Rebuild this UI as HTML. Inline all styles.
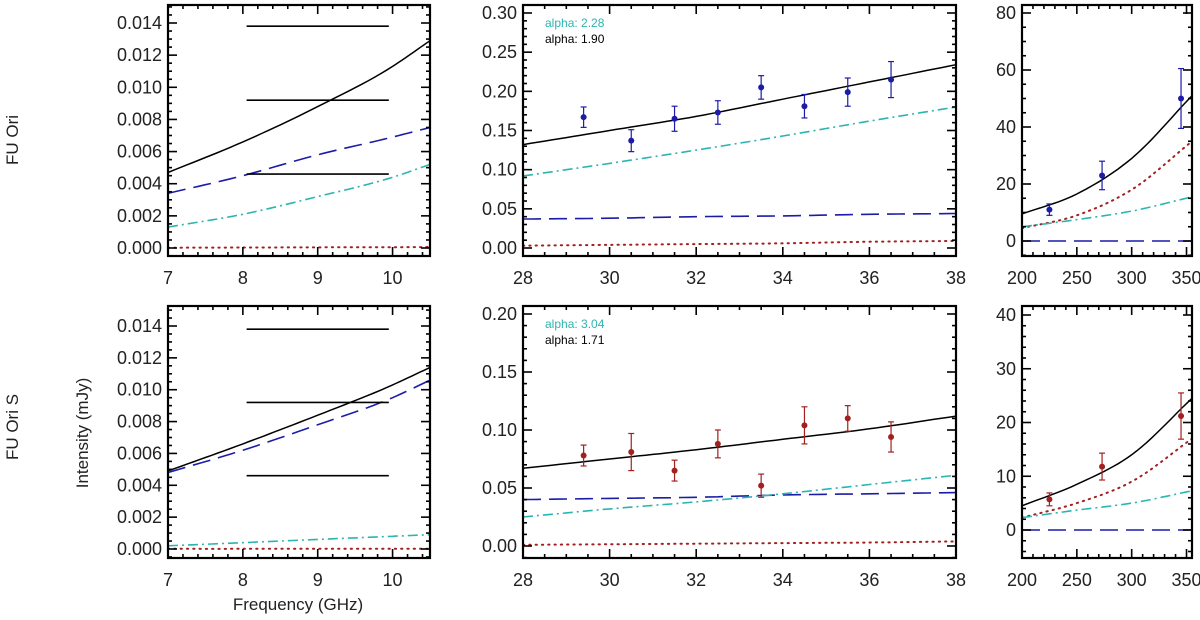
<!DOCTYPE html>
<html><head><meta charset="utf-8">
<style>
html,body{margin:0;padding:0;background:#fff;}
svg{display:block;font-family:"Liberation Sans",sans-serif;}
</style></head>
<body>
<svg id="c" width="1200" height="620" viewBox="0 0 1200 620"></svg>
<script>
// ---- data ----
const lowX = [7, 8, 9, 10, 10.5];
const midX = [28, 30, 32, 34, 36, 38];
const highX = [200, 250, 300, 355];
const ptMidX = [29.4, 30.5, 31.5, 32.5, 33.5, 34.5, 35.5, 36.5];
const ptHighX = [225, 273, 345];
const limitX = [8.05, 9.95];
const limitY = [0.0138, 0.0092, 0.0046];

// FU Ori
const a_totLow = [0.0047, 0.0066, 0.0088, 0.0113, 0.0129];
const a_dashLow = [0.0034, 0.0045, 0.0058, 0.0069, 0.0075];
const a_cyanLow = [0.0013, 0.0021, 0.0032, 0.0044, 0.0052];
const a_redLow = [0.00002, 0.00003, 0.00004, 0.00005, 0.00006];
const a_totMid = [0.132, 0.150, 0.168, 0.190, 0.212, 0.234];
const a_cyanMid = [0.092, 0.108, 0.125, 0.143, 0.162, 0.180];
const a_dashMid = [0.037, 0.038, 0.040, 0.041, 0.043, 0.044];
const a_redMid = [0.003, 0.004, 0.005, 0.006, 0.008, 0.009];
const a_ptMid = [0.167, 0.137, 0.165, 0.173, 0.205, 0.181, 0.199, 0.215];
const a_errMid = [0.013, 0.014, 0.016, 0.015, 0.015, 0.015, 0.018, 0.023];
const a_totHigh = [9.5, 16.5, 29, 51];
const a_redHigh = [4.5, 9, 18, 35];
const a_cyanHigh = [5, 7.5, 10.5, 15.5];
const a_dashHigh = [0, 0, 0, 0];
const a_ptHigh = [11, 23, 50];
const a_errHigh = [2, 5, 10.5];

// FU Ori S
const b_totLow = [0.0049, 0.0066, 0.0084, 0.0103, 0.0114];
const b_dashLow = [0.0048, 0.0062, 0.0078, 0.0095, 0.0106];
const b_cyanLow = [0.0002, 0.0004, 0.0006, 0.0008, 0.0009];
const b_redLow = [0.00001, 0.00001, 0.00002, 0.00002, 0.00002];
const b_totMid = [0.067, 0.075, 0.083, 0.092, 0.101, 0.112];
const b_dashMid = [0.040, 0.041, 0.042, 0.044, 0.045, 0.046];
const b_cyanMid = [0.025, 0.032, 0.038, 0.045, 0.053, 0.061];
const b_redMid = [0.001, 0.0015, 0.002, 0.0025, 0.003, 0.004];
const b_ptMid = [0.078, 0.081, 0.065, 0.088, 0.052, 0.104, 0.110, 0.094];
const b_errMid = [0.009, 0.016, 0.009, 0.012, 0.010, 0.016, 0.011, 0.013];
const b_totHigh = [4.5, 8.5, 14, 24.5];
const b_redHigh = [2.3, 5, 9, 17];
const b_cyanHigh = [2.3, 3.7, 5, 7.3];
const b_dashHigh = [0, 0, 0, 0];
const b_ptHigh = [5.7, 11.8, 21.2];
const b_errHigh = [1.2, 2.5, 4.3];

const lowTicksX = [7, 8, 9, 10];
const lowTicksY = ["0.000","0.002","0.004","0.006","0.008","0.010","0.012","0.014"];
const midTicksX = [28, 30, 32, 34, 36, 38];
const midTicksYa = ["0.00","0.05","0.10","0.15","0.20","0.25","0.30"];
const midTicksYb = ["0.00","0.05","0.10","0.15","0.20"];
const highTicksX = [200, 250, 300, 350];
const highTicksYa = ["0","20","40","60","80"];
const highTicksYb = ["0","10","20","30","40"];

const NS = "http://www.w3.org/2000/svg";
const svg = document.getElementById('c');
function el(tag, attrs, parent, text){
  const e = document.createElementNS(NS, tag);
  for (const k in attrs) e.setAttribute(k, attrs[k]);
  if (text !== undefined) e.textContent = text;
  (parent || svg).appendChild(e);
  return e;
}
const BLK="#000", BLUE="#1c1ca8", CYAN="#2cb5b0", RED="#a32020";
const STY = {
  tot:{stroke:BLK, dash:"", w:1.5},
  dash:{stroke:BLUE, dash:"18,8", w:1.6},
  cyan:{stroke:CYAN, dash:"10,4,2,4", w:1.6},
  red:{stroke:RED, dash:"1.3,5", w:2}
};

function panel(name, L, R, T, B, x0, x1, ya, ypa, yb, ypb){
  const g = el('g', {}, svg);
  
  
  const sx = v => L + (v - x0) / (x1 - x0) * (R - L);
  const sy = v => ypa + (v - ya) / (yb - ya) * (ypb - ypa);
  const invY = p => ya + (p - ypa) / (ypb - ypa) * (yb - ya);
  return {g, L, R, T, B, sx, sy, invY, x0, x1};
}
function tangents(xs, ys){
  const n = xs.length, m = [];
  for (let i = 0; i < n; i++) {
    if (i === 0) m.push((ys[1]-ys[0])/(xs[1]-xs[0]));
    else if (i === n-1) m.push((ys[n-1]-ys[n-2])/(xs[n-1]-xs[n-2]));
    else {
      const d0 = (ys[i]-ys[i-1])/(xs[i]-xs[i-1]), d1 = (ys[i+1]-ys[i])/(xs[i+1]-xs[i]);
      const h0 = xs[i]-xs[i-1], h1 = xs[i+1]-xs[i];
      m.push((d0*h1 + d1*h0)/(h0+h1));
    }
  }
  return m;
}
function line(p, name, xs, ys, kind){
  const m = tangents(xs, ys);
  let pts = [];
  for (let i = 0; i < xs.length - 1; i++) {
    const h = xs[i+1] - xs[i];
    for (let k = 0; k < 12; k++) {
      const t = k / 12, t2 = t*t, t3 = t2*t;
      const y = (2*t3-3*t2+1)*ys[i] + (t3-2*t2+t)*h*m[i] + (-2*t3+3*t2)*ys[i+1] + (t3-t2)*h*m[i+1];
      const x = xs[i] + h * t;
      pts.push(p.sx(x).toFixed(1) + "," + p.sy(y).toFixed(1));
    }
  }
  pts.push(p.sx(xs[xs.length-1]).toFixed(1) + "," + p.sy(ys[ys.length-1]).toFixed(1));
  const s = STY[kind];
  const e = el('polyline', {points: pts.join(" "), fill:"none", stroke:s.stroke, "stroke-width": s.w, "stroke-dasharray": s.dash, "stroke-linecap": kind==="red"?"round":"butt"}, p.g);
  
  
}
function points(p, name, xs, ys, es, color){
  xs.forEach((x, i) => {
    const cx = p.sx(x), cy = p.sy(ys[i]), y1 = p.sy(ys[i] + es[i]), y2 = p.sy(ys[i] - es[i]);
    const g = el('g', {}, p.g);
    
    
    el('line', {x1:cx, x2:cx, y1:y1, y2:y2, stroke:color, "stroke-width":1.2}, g);
    el('line', {x1:cx-3, x2:cx+3, y1:y1, y2:y1, stroke:color, "stroke-width":1.2}, g);
    el('line', {x1:cx-3, x2:cx+3, y1:y2, y2:y2, stroke:color, "stroke-width":1.2}, g);
    el('circle', {cx:cx, cy:cy, r:3, fill:color}, g);
  });
}
function axes(p, xt, yLabels, yStep, xMinorN, yMinorN, yMinorStep){
  const g = p.g;
  const tickG = el('g', {stroke:"#000", "stroke-width":1.6}, g);
  
  
  const xstep = xt[1] - xt[0];
  const mstep = xstep / xMinorN;
  for (let v = xt[0] - xstep; v <= p.x1 + 1e-9; v += mstep) {
    if (v < p.x0 - 1e-9) continue;
    const x = p.sx(v);
    const major = Math.abs((v - xt[0]) / xstep - Math.round((v - xt[0]) / xstep)) < 1e-6;
    const len = major ? 9 : 4;
    el('line', {x1:x, x2:x, y1:p.B, y2:p.B - len}, tickG);
    el('line', {x1:x, x2:x, y1:p.T, y2:p.T + len}, tickG);
  }
  const yTop = p.invY(p.T), yBot = p.invY(p.B);
  for (let k = Math.ceil(yBot / yMinorStep - 1e-6); k * yMinorStep <= yTop + 1e-12; k++) {
    const y = p.sy(k * yMinorStep);
    const len = (k % yMinorN === 0) ? 9 : 4;
    el('line', {x1:p.L, x2:p.L + len, y1:y, y2:y}, tickG);
    el('line', {x1:p.R, x2:p.R - len, y1:y, y2:y}, tickG);
  }
  el('rect', {x:p.L, y:p.T, width:p.R - p.L, height:p.B - p.T, fill:"none", stroke:"#000", "stroke-width":2.2}, g);
  xt.forEach(v => {
    const t = el('text', {x:p.sx(v), y:p.B + 28, "text-anchor":"middle", "font-size":18, fill:"#222"}, g, String(v));
    
    
  });
  yLabels.forEach((s, i) => {
    const t = el('text', {x:p.L - 6, y:p.sy(i * yStep) + 6, "text-anchor":"end", "font-size":18, fill:"#222"}, g, s);
    
    
  });
}
function limits(p, name){
  limitY.forEach(v => {
    const e = el('line', {x1:p.sx(limitX[0]), x2:p.sx(limitX[1]), y1:p.sy(v), y2:p.sy(v), stroke:"#000", "stroke-width":1.6}, p.g);
    
    
  });
}
function alpha(p, c, k){
  const t1 = el('text', {x:p.L + 22, y:p.T + 22, "font-size":12, fill:CYAN}, p.g, "alpha: " + c);
  
  
  const t2 = el('text', {x:p.L + 22, y:p.T + 38, "font-size":12, fill:"#000"}, p.g, "alpha: " + k);
  
  
}

// ---- top row: FU Ori ----
let p = panel('fuori-low-panel', 168, 430, 5, 256, 7, 10.5, 0, 248, 0.014, 23);
line(p,'model-total',lowX,a_totLow,'tot'); line(p,'model-freefree',lowX,a_dashLow,'dash');
line(p,'model-dust',lowX,a_cyanLow,'cyan'); line(p,'model-dust2',lowX,a_redLow,'red');
limits(p,'upper-limit'); axes(p, lowTicksX, lowTicksY, 0.002, 5, 4, 0.0005);

p = panel('fuori-mid-panel', 523, 956, 5, 256, 28, 38, 0, 248, 0.30, 13);
line(p,'model-total',midX,a_totMid,'tot'); line(p,'model-dust',midX,a_cyanMid,'cyan');
line(p,'model-freefree',midX,a_dashMid,'dash'); line(p,'model-dust2',midX,a_redMid,'red');
points(p,'data-point',ptMidX,a_ptMid,a_errMid,BLUE);
axes(p, midTicksX, midTicksYa, 0.05, 4, 5, 0.01); alpha(p,"2.28","1.90");

p = panel('fuori-high-panel', 1022, 1192, 5, 256, 200, 355, 0, 241, 80, 13);
line(p,'model-total',highX,a_totHigh,'tot'); line(p,'model-dust2',highX,a_redHigh,'red');
line(p,'model-dust',highX,a_cyanHigh,'cyan'); line(p,'model-freefree',highX,a_dashHigh,'dash');
points(p,'data-point',ptHighX,a_ptHigh,a_errHigh,BLUE);
axes(p, highTicksX, highTicksYa, 20, 5, 4, 5);

// ---- bottom row: FU Ori S ----
p = panel('fuoris-low-panel', 168, 430, 306, 558, 7, 10.5, 0, 549, 0.014, 326);
line(p,'model-total',lowX,b_totLow,'tot'); line(p,'model-freefree',lowX,b_dashLow,'dash');
line(p,'model-dust',lowX,b_cyanLow,'cyan'); line(p,'model-dust2',lowX,b_redLow,'red');
limits(p,'upper-limit'); axes(p, lowTicksX, lowTicksY, 0.002, 5, 4, 0.0005);

p = panel('fuoris-mid-panel', 523, 956, 306, 558, 28, 38, 0, 546, 0.20, 314);
line(p,'model-total',midX,b_totMid,'tot'); line(p,'model-freefree',midX,b_dashMid,'dash');
line(p,'model-dust',midX,b_cyanMid,'cyan'); line(p,'model-dust2',midX,b_redMid,'red');
points(p,'data-point',ptMidX,b_ptMid,b_errMid,RED);
axes(p, midTicksX, midTicksYb, 0.05, 4, 5, 0.01); alpha(p,"3.04","1.71");

p = panel('fuoris-high-panel', 1022, 1192, 306, 558, 200, 355, 0, 530, 40, 315);
line(p,'model-total',highX,b_totHigh,'tot'); line(p,'model-dust2',highX,b_redHigh,'red');
line(p,'model-dust',highX,b_cyanHigh,'cyan'); line(p,'model-freefree',highX,b_dashHigh,'dash');
points(p,'data-point',ptHighX,b_ptHigh,b_errHigh,RED);
axes(p, highTicksX, highTicksYb, 10, 5, 5, 2);
</script>
<div style="position:absolute;left:0;top:0;width:1200px;height:620px;pointer-events:none;font-family:'Liberation Sans',sans-serif;color:#222;">
  <div style="position:absolute;left:13px;top:140px;transform:translate(-50%,-50%) rotate(-90deg);font-size:17px;white-space:nowrap;">FU Ori</div>
  <div style="position:absolute;left:13px;top:427px;transform:translate(-50%,-50%) rotate(-90deg);font-size:17px;white-space:nowrap;">FU Ori S</div>
  <div style="position:absolute;left:83px;top:433px;transform:translate(-50%,-50%) rotate(-90deg);font-size:17px;white-space:nowrap;">Intensity (mJy)</div>
  <div style="position:absolute;left:298px;top:605px;transform:translate(-50%,-50%);font-size:17px;white-space:nowrap;">Frequency (GHz)</div>
</div>
</body></html>
